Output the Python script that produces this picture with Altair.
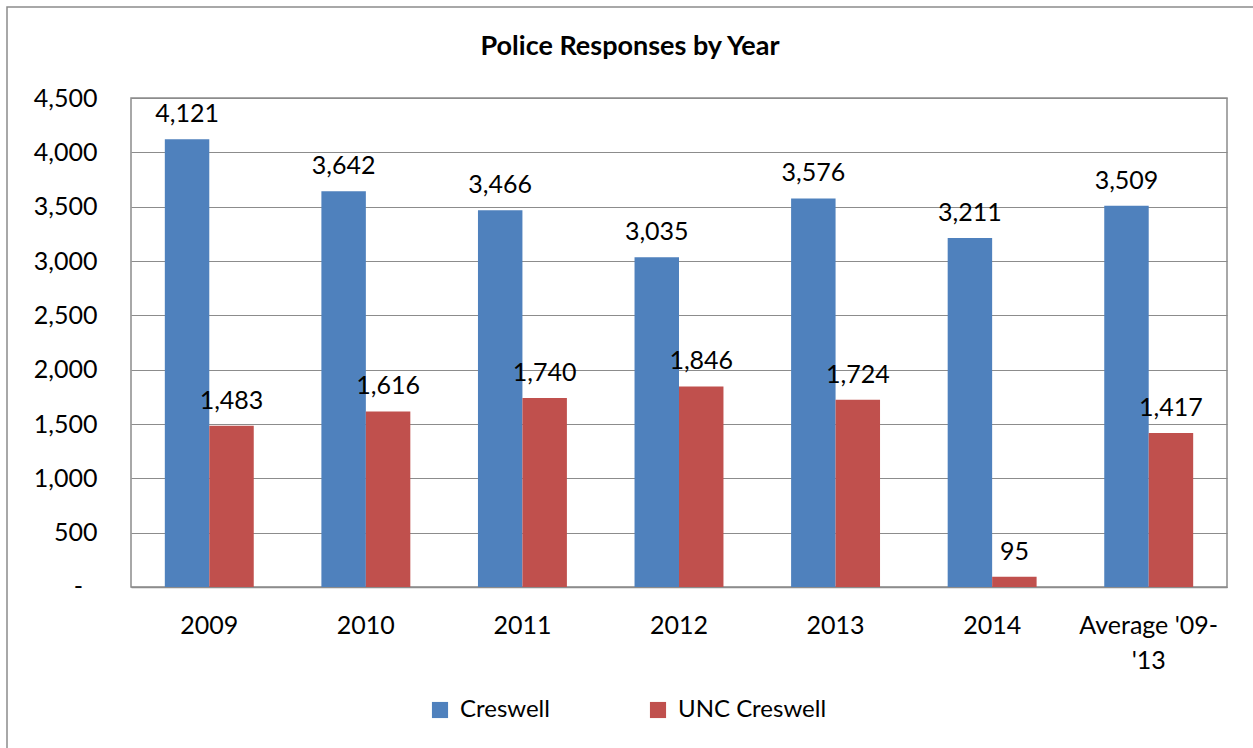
import altair as alt
import pandas as pd

years = ["2009", "2010", "2011", "2012", "2013", "2014", "Average '09-'13"]
creswell = [4121, 3642, 3466, 3035, 3576, 3211, 3509]
unc_creswell = [1483, 1616, 1740, 1846, 1724, 95, 1417]
series = ["Creswell", "UNC Creswell"]
colors = ["#4F81BD", "#C0504D"]
title_text = "Police Responses by Year"

rows = []
for y, a, b in zip(years, creswell, unc_creswell):
    rows.append({"year": y, "series": series[0], "value": a})
    rows.append({"year": y, "series": series[1], "value": b})
df = pd.DataFrame(rows)

FONT = "Lato"
GRID = "#8c8c8c"

x_enc = alt.X(
    "year:N",
    sort=years,
    title=None,
    scale=alt.Scale(paddingInner=0.432, paddingOuter=0.216),
    axis=alt.Axis(
        labelAngle=0,
        labelFontSize=25,
        labelFont=FONT,
        labelColor="#000000",
        labelPadding=26,
        ticks=False,
        domainColor=GRID,
        domainWidth=1.5,
        labelExpr="datum.value == \"Average '09-'13\" ? [\"Average '09-\", \"'13\"] : datum.value",
        labelLineHeight=35,
        labelBaseline="top",
    ),
)
off_enc = alt.XOffset("series:N", sort=series, scale=alt.Scale(paddingInner=0, paddingOuter=0))
y_enc = alt.Y(
    "value:Q",
    title=None,
    scale=alt.Scale(domain=[0, 4500], nice=False),
    axis=alt.Axis(
        values=list(range(0, 4501, 500)),
        labelFontSize=25,
        labelFont=FONT,
        labelColor="#000000",
        labelPadding=34,
        ticks=False,
        domain=False,
        gridColor=GRID,
        gridWidth=1.2,
        labelExpr="datum.value == 0 ? '' : format(datum.value, ',')",
    ),
)

bars = alt.Chart(df).mark_bar().encode(
    x=x_enc,
    xOffset=off_enc,
    y=y_enc,
    color=alt.Color(
        "series:N",
        sort=series,
        scale=alt.Scale(domain=series, range=colors),
        legend=alt.Legend(
            title=None,
            orient="none",
            legendX=297,
            legendY=600,
            direction="horizontal",
            symbolType="square",
            symbolSize=260,
            symbolStrokeWidth=0,
            labelFontSize=24,
            labelFont=FONT,
            labelColor="#000000",
            columnPadding=96,
            labelOffset=8,
        ),
    ),
)

labels = alt.Chart(df).mark_text(
    baseline="bottom", dy=-12, fontSize=25, font=FONT, color="#000000"
).encode(
    x=alt.X("year:N", sort=years),
    xOffset=alt.XOffset("series:N", sort=series),
    y=alt.Y("value:Q"),
    text=alt.Text("value:Q", format=","),
)

zero_label = alt.Chart(pd.DataFrame({"v": [0], "t": ["-"]})).mark_text(
    fontSize=25, font=FONT, color="#000000", align="right", baseline="middle"
).encode(
    x=alt.value(-48), y=alt.Y("v:Q"), text="t:N"
)

frame = alt.Chart(pd.DataFrame({"a": [0]})).mark_rect(
    fill=None, stroke="#8c8c8c", strokeWidth=1.5
).encode(
    x=alt.value(-124), x2=alt.value(1140), y=alt.value(-91), y2=alt.value(670)
)

title = alt.Chart(pd.DataFrame({"t": [title_text]})).mark_text(
    font=FONT, fontSize=27, fontWeight="bold", color="#000000",
    align="center", baseline="middle"
).encode(
    text="t:N", x=alt.value(499), y=alt.value(-51)
)

chart = alt.layer(frame, bars, labels, zero_label, title).properties(
    width=1096,
    height=489,
    padding={"left": 131, "top": 98, "right": 26, "bottom": 161},
    autosize=alt.AutoSizeParams(type="none"),
    background="#ffffff",
).configure_view(stroke=GRID, strokeWidth=1.5)

chart.save("out.html", embed_options={"renderer": "svg", "actions": False})
